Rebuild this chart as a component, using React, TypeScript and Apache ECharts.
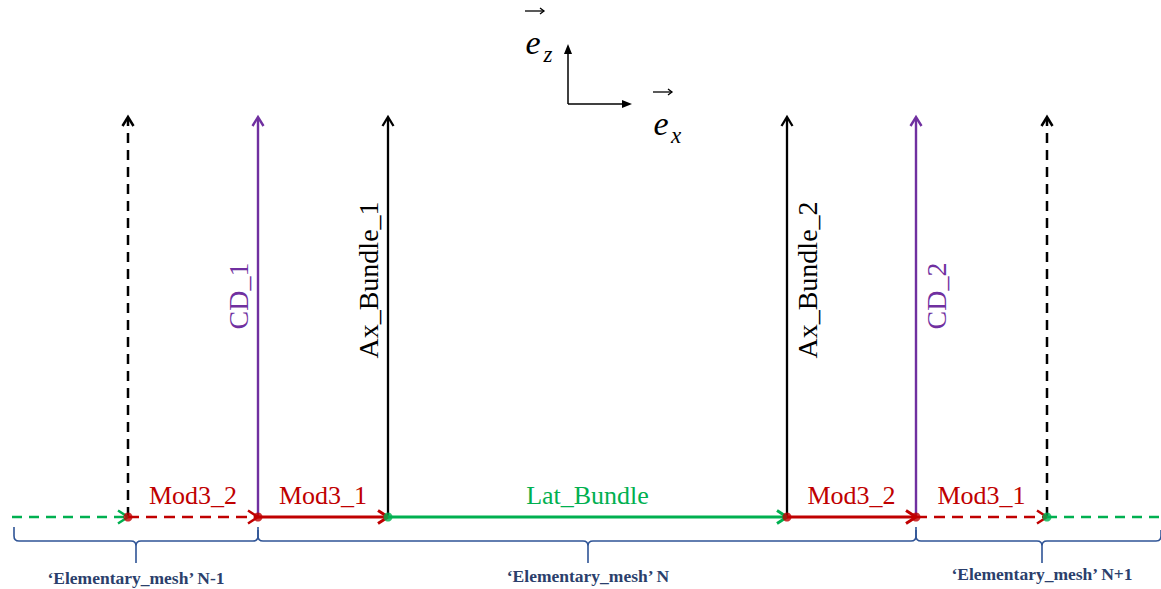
import React, { useEffect, useRef } from "react";
import * as echarts from "echarts";

const WIDTH = 1161;
const HEIGHT = 589;

// ---- diagram data (diagram units = page pixels) ----
const baselineY = 517;
const arrowTopY = 117;

// baseline segments
const segmentStart = [12, 128, 258, 388, 787, 916, 1047];
const segmentEnd = [128, 258, 388, 787, 916, 1047, 1161];
const segmentLabels = ["", "Mod3_2", "Mod3_1", "Lat_Bundle", "Mod3_2", "Mod3_1", ""];
const segmentKinds = ["latDashed", "modDashed", "mod", "lat", "mod", "modDashed", "latTail"];

// vertical arrows
const verticalX = [128, 258, 388, 787, 916, 1047];
const verticalLabels = ["", "CD_1", "Ax_Bundle_1", "Ax_Bundle_2", "CD_2", ""];
const verticalKinds = ["ghost", "cd", "ax", "ax", "cd", "ghost"];
const verticalLabelSide = [0, -1, -1, 1, 1, 0];
const verticalLabelY = [0, 296, 280, 280, 296, 0];

// nodes
const redNodesX = [128, 258, 787, 916];
const greenNodesX = [388, 1047];

// braces
const braceStart = [14, 258, 916];
const braceEnd = [258, 916, 1161];
const braceTip = [136, 588, 1042];
const braceLabels = ["\u2018Elementary_mesh\u2019 N-1", "\u2018Elementary_mesh\u2019 N", "\u2018Elementary_mesh\u2019 N+1"];
const braceLabelY = [578, 576, 574];

// reference frame
const frameOrigin = [568, 104];
const frameZEnd = [568, 44];
const frameXEnd = [632, 104];
const unitVectorNames = ["z", "x"];
const unitVectorAnchor = [
  [533, 42],
  [661, 123],
];

// ---- styles ----
const RED = "#c00000";
const GREEN = "#00b050";
const PURPLE = "#7030a0";
const BLACK = "#000000";
const BRACE = "#2f5496";
const BRACE_TEXT = "#2b3f6c";
const SERIF = "'Liberation Serif', 'DejaVu Serif', serif";

const segStyle: Record<string, any> = {
  latDashed: { color: GREEN, dash: [10, 7], width: 2.5, arrow: true },
  modDashed: { color: RED, dash: [11, 7], width: 2.5, arrow: true },
  mod: { color: RED, dash: null, width: 3, arrow: true },
  lat: { color: GREEN, dash: null, width: 3, arrow: true },
  latTail: { color: GREEN, dash: [10, 7], width: 2.5, arrow: false },
};
const vertStyle: Record<string, any> = {
  ghost: { color: BLACK, dash: [10, 7], width: 2.5, text: BLACK },
  cd: { color: PURPLE, dash: null, width: 2.4, text: PURPLE },
  ax: { color: BLACK, dash: null, width: 2.3, text: BLACK },
};

function chevronRight(x: number, y: number, color: string, w: number) {
  return {
    type: "polyline",
    shape: { points: [[x - 10, y - 6.5], [x, y], [x - 10, y + 6.5]] },
    style: { stroke: color, lineWidth: w, fill: null, lineJoin: "miter" },
  };
}
function chevronUp(x: number, y: number, color: string, w: number) {
  return {
    type: "polyline",
    shape: { points: [[x - 5.5, y + 9], [x, y], [x + 5.5, y + 9]] },
    style: { stroke: color, lineWidth: w, fill: null, lineJoin: "miter" },
  };
}

function buildOption() {
  const segmentSeries = {
    type: "custom",
    name: "segments",
    silent: true,
    z: 3,
    data: segmentStart.map((s, i) => [s, segmentEnd[i], baselineY]),
    renderItem: (params: any, api: any) => {
      const i = params.dataIndex;
      const st = segStyle[segmentKinds[i]];
      const p1 = api.coord([api.value(0), api.value(2)]);
      const p2 = api.coord([api.value(1), api.value(2)]);
      const children: any[] = [
        {
          type: "line",
          shape: { x1: p1[0], y1: p1[1], x2: st.arrow ? p2[0] - 2 : p2[0], y2: p2[1] },
          style: { stroke: st.color, lineWidth: st.width, lineDash: st.dash || undefined },
        },
      ];
      if (st.arrow) children.push(chevronRight(p2[0], p2[1], st.color, st.width));
      if (segmentLabels[i]) {
        children.push({
          type: "text",
          x: (p1[0] + p2[0]) / 2,
          y: p1[1] - 22,
          style: {
            text: segmentLabels[i],
            fill: st.color,
            font: `26px ${SERIF}`,
            align: "center",
            verticalAlign: "middle",
          },
        });
      }
      return { type: "group", children };
    },
  };

  const verticalSeries = {
    type: "custom",
    name: "verticals",
    silent: true,
    z: 2,
    data: verticalX.map((x) => [x, baselineY, arrowTopY]),
    renderItem: (params: any, api: any) => {
      const i = params.dataIndex;
      const st = vertStyle[verticalKinds[i]];
      const p1 = api.coord([api.value(0), api.value(1)]);
      const p2 = api.coord([api.value(0), api.value(2)]);
      const children: any[] = [
        {
          type: "line",
          shape: { x1: p1[0], y1: p1[1], x2: p2[0], y2: p2[1] + 2 },
          style: { stroke: st.color, lineWidth: st.width, lineDash: st.dash || undefined },
        },
        chevronUp(p2[0], p2[1], st.color, st.width),
      ];
      if (verticalLabels[i]) {
        const lp = api.coord([api.value(0), verticalLabelY[i]]);
        children.push({
          type: "text",
          x: lp[0] + verticalLabelSide[i] * 20,
          y: lp[1],
          rotation: Math.PI / 2,
          style: {
            text: verticalLabels[i],
            fill: st.text,
            font: `28px ${SERIF}`,
            align: "center",
            verticalAlign: "middle",
          },
        });
      }
      return { type: "group", children };
    },
  };

  const braceSeries = {
    type: "custom",
    name: "braces",
    silent: true,
    z: 2,
    data: braceStart.map((s, i) => [s, braceEnd[i], braceTip[i]]),
    renderItem: (params: any, api: any) => {
      const i = params.dataIndex;
      const hookY = 527;
      const barY = 541;
      const tipY = 563;
      const a = api.coord([api.value(0), hookY]);
      const b = api.coord([api.value(1), hookY]);
      const t = api.coord([api.value(2), tipY]);
      const bar = api.coord([0, barY])[1];
      const ax = a[0], bx = b[0], tx = t[0], hy = a[1], ty = t[1];
      const r = 5;
      const d =
        `M ${ax} ${hy} L ${ax} ${bar - r} Q ${ax} ${bar} ${ax + r} ${bar} L ${tx - r} ${bar} ` +
        `Q ${tx} ${bar} ${tx} ${bar + r} L ${tx} ${ty} M ${tx} ${bar + r} Q ${tx} ${bar} ${tx + r} ${bar} ` +
        `L ${bx - r} ${bar} Q ${bx} ${bar} ${bx} ${bar - r} L ${bx} ${hy + 3}`;
      const lp = api.coord([api.value(2), braceLabelY[i]]);
      return {
        type: "group",
        children: [
          { type: "path", shape: { pathData: d }, style: { stroke: BRACE, lineWidth: 1.6, fill: null } },
          {
            type: "text",
            x: lp[0],
            y: lp[1],
            style: {
              text: braceLabels[i],
              fill: BRACE_TEXT,
              font: `bold 17.5px ${SERIF}`,
              align: "center",
              verticalAlign: "middle",
            },
          },
        ],
      };
    },
  };

  const frameSeries = {
    type: "custom",
    name: "frame",
    silent: true,
    z: 2,
    data: [[frameOrigin[0], frameOrigin[1], frameZEnd[0], frameZEnd[1], frameXEnd[0], frameXEnd[1]]],
    renderItem: (params: any, api: any) => {
      const o = api.coord([api.value(0), api.value(1)]);
      const z = api.coord([api.value(2), api.value(3)]);
      const x = api.coord([api.value(4), api.value(5)]);
      const children: any[] = [
        { type: "line", shape: { x1: o[0], y1: o[1], x2: z[0], y2: z[1] + 8 }, style: { stroke: BLACK, lineWidth: 1.5 } },
        { type: "polygon", shape: { points: [[z[0], z[1]], [z[0] - 4, z[1] + 10], [z[0] + 4, z[1] + 10]] }, style: { fill: BLACK } },
        { type: "line", shape: { x1: o[0], y1: o[1], x2: x[0] - 8, y2: x[1] }, style: { stroke: BLACK, lineWidth: 1.5 } },
        { type: "polygon", shape: { points: [[x[0], x[1]], [x[0] - 10, x[1] - 4], [x[0] - 10, x[1] + 4]] }, style: { fill: BLACK } },
      ];
      unitVectorNames.forEach((n, k) => {
        const p = api.coord(unitVectorAnchor[k]);
        children.push({
          type: "text",
          x: p[0],
          y: p[1],
          style: { text: "e", fill: BLACK, font: `italic 34px ${SERIF}`, align: "center", verticalAlign: "middle" },
        });
        children.push({
          type: "text",
          x: p[0] + 15,
          y: p[1] + 12,
          style: { text: n, fill: BLACK, font: `italic 23px ${SERIF}`, align: "center", verticalAlign: "middle" },
        });
        const ay = p[1] - 31;
        children.push({ type: "line", shape: { x1: p[0] - 8, y1: ay, x2: p[0] + 11, y2: ay }, style: { stroke: BLACK, lineWidth: 1.3 } });
        children.push({
          type: "polyline",
          shape: { points: [[p[0] + 7, ay - 3], [p[0] + 11, ay], [p[0] + 7, ay + 3]] },
          style: { stroke: BLACK, lineWidth: 1.3, fill: null },
        });
      });
      return { type: "group", children };
    },
  };

  return {
    animation: false,
    backgroundColor: "#ffffff",
    grid: { left: 0, right: 0, top: 0, bottom: 0 },
    xAxis: { type: "value", min: 0, max: WIDTH, show: false },
    yAxis: { type: "value", min: 0, max: HEIGHT, inverse: true, show: false },
    series: [
      braceSeries,
      frameSeries,
      verticalSeries,
      segmentSeries,
      {
        type: "scatter",
        name: "red nodes",
        silent: true,
        z: 5,
        symbolSize: 9,
        itemStyle: { color: RED },
        data: redNodesX.map((x) => [x, baselineY]),
      },
      {
        type: "scatter",
        name: "green nodes",
        silent: true,
        z: 5,
        symbolSize: 9,
        itemStyle: { color: GREEN },
        data: greenNodesX.map((x) => [x, baselineY]),
      },
    ],
  };
}

export default function App() {
  const ref = useRef<HTMLDivElement>(null);
  useEffect(() => {
    if (!ref.current) return;
    const chart = echarts.init(ref.current, null, { renderer: "svg" });
    chart.setOption(buildOption() as any);
    return () => chart.dispose();
  }, []);
  return (
    <div
      ref={ref}
      style={{ position: "fixed", left: 0, top: 0, width: WIDTH, height: HEIGHT, background: "#ffffff" }}
    />
  );
}
